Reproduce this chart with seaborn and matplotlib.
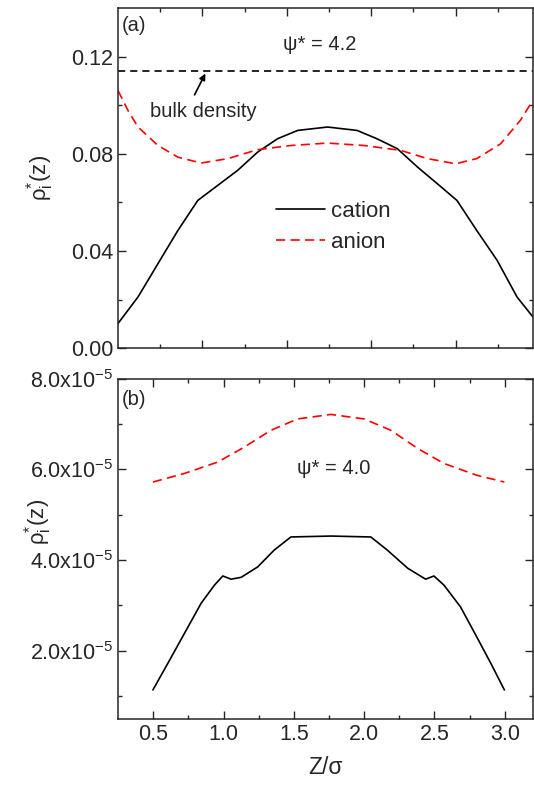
import numpy as np
import pandas as pd
import matplotlib
matplotlib.use("Agg")
import matplotlib.pyplot as plt
import seaborn as sns
from matplotlib.ticker import FixedLocator, NullFormatter

# ---- data (panel a, psi* = 4.2) ----
za = [0.25, 0.392, 0.534, 0.676, 0.817, 0.959, 1.101, 1.243, 1.385, 1.527, 1.739,
      1.95, 2.09, 2.236, 2.38, 2.52, 2.66, 2.80, 2.945, 3.087, 3.20]
cation_a = [0.0102, 0.0211, 0.0348, 0.0485, 0.0608, 0.0670, 0.0732, 0.0807, 0.0862, 0.0896, 0.0910,
            0.0896, 0.0862, 0.0821, 0.0745, 0.0677, 0.0608, 0.0485, 0.0362, 0.0211, 0.0129]
za_an = [0.25, 0.321, 0.392, 0.534, 0.676, 0.841, 1.03, 1.243, 1.479, 1.739, 2.00, 2.26,
         2.45, 2.65, 2.80, 2.97, 3.11, 3.20]
anion_a = [0.106, 0.0978, 0.0910, 0.0834, 0.0786, 0.0762, 0.0780, 0.0817, 0.0834, 0.0844, 0.0834,
           0.0814, 0.0780, 0.0759, 0.0780, 0.0841, 0.0937, 0.102]
bulk_density = 0.114

# ---- data (panel b, psi* = 4.0) ----
zb = [0.498, 0.605, 0.723, 0.841, 0.936, 0.995, 1.054, 1.125, 1.243, 1.36, 1.479, 1.763,
      2.047, 2.165, 2.31, 2.437, 2.496, 2.567, 2.685, 2.80, 2.90, 2.997]
cation_b = [1.14e-5, 1.73e-5, 2.39e-5, 3.05e-5, 3.45e-5, 3.65e-5, 3.58e-5, 3.62e-5, 3.85e-5, 4.22e-5,
            4.51e-5, 4.53e-5, 4.51e-5, 4.22e-5, 3.82e-5, 3.58e-5, 3.65e-5, 3.45e-5, 2.97e-5,
            2.31e-5, 1.73e-5, 1.14e-5]
zb_an = [0.498, 0.723, 0.959, 1.148, 1.337, 1.527, 1.763, 2.00, 2.19, 2.38, 2.567, 2.80, 2.997]
anion_b = [5.72e-5, 5.91e-5, 6.16e-5, 6.49e-5, 6.86e-5, 7.11e-5, 7.21e-5, 7.11e-5, 6.86e-5,
           6.46e-5, 6.13e-5, 5.87e-5, 5.72e-5]

ytick_a = [0.00, 0.04, 0.08, 0.12]
ytick_a_labels = ["0.00", "0.04", "0.08", "0.12"]
ytick_b = [2e-5, 4e-5, 6e-5, 8e-5]
ytick_b_labels = [r"2.0x10$^{-5}$", r"4.0x10$^{-5}$", r"6.0x10$^{-5}$", r"8.0x10$^{-5}$"]
xtick_b = [0.5, 1.0, 1.5, 2.0, 2.5, 3.0]
xtick_b_labels = ["0.5", "1.0", "1.5", "2.0", "2.5", "3.0"]

sns.set_style("ticks")
plt.rcParams["font.family"] = ["Liberation Sans", "DejaVu Sans"]
plt.rcParams["mathtext.fontset"] = "custom"
plt.rcParams["mathtext.rm"] = "Liberation Sans"
plt.rcParams["mathtext.it"] = "Liberation Sans:italic"
plt.rcParams["mathtext.bf"] = "Liberation Sans:bold"

FS_TICK = 15.5
FS_TXT = 14.5
fig = plt.figure(figsize=(5.34, 7.88), dpi=100)
ax1 = fig.add_axes([0.221, 0.558, 0.777, 0.432])
ax2 = fig.add_axes([0.221, 0.0876, 0.777, 0.432])

red = "#ff0000"
LW = 1.2
dfa_c = pd.DataFrame({"z": za, "rho": cation_a})
dfa_a = pd.DataFrame({"z": za_an, "rho": anion_a})
sns.lineplot(data=dfa_c, x="z", y="rho", ax=ax1, color="black", lw=LW, label="cation", sort=False)
sns.lineplot(data=dfa_a, x="z", y="rho", ax=ax1, color=red, lw=LW, label="anion", sort=False,
             linestyle=(0, (5.5, 3.2)))
ax1.axhline(bulk_density, color="black", lw=LW, linestyle=(0, (4.3, 3)))

dfb_c = pd.DataFrame({"z": zb, "rho": cation_b})
dfb_a = pd.DataFrame({"z": zb_an, "rho": anion_b})
sns.lineplot(data=dfb_c, x="z", y="rho", ax=ax2, color="black", lw=LW, sort=False)
sns.lineplot(data=dfb_a, x="z", y="rho", ax=ax2, color=red, lw=LW, sort=False,
             linestyle=(0, (5.5, 3.2)))

for ax in (ax1, ax2):
    ax.set_xlim(0.25, 3.2)
    for s in ax.spines.values():
        s.set_visible(True)
        s.set_linewidth(1.1)
    ax.tick_params(which="both", direction="in", top=True, right=True, width=1.0,
                   labelsize=FS_TICK)
    ax.tick_params(which="major", length=5.5)
    ax.tick_params(which="minor", length=3)
    ax.set_xlabel("")

# panel a
ax1.set_ylim(0, 0.14)
ax1.set_yticks(ytick_a)
ax1.set_yticklabels(ytick_a_labels)
ax1.yaxis.set_minor_locator(FixedLocator([0.02, 0.06, 0.10]))
ax1.xaxis.set_major_locator(FixedLocator([0.85, 1.45, 2.05, 2.65]))
ax1.xaxis.set_minor_locator(FixedLocator([0.55, 1.15, 1.75, 2.35, 2.95]))
ax1.xaxis.set_major_formatter(NullFormatter())
ax1.set_ylabel(r"ρ$_{\rm i}^{*}$(z)", fontsize=16)
ax1.yaxis.set_label_coords(-0.15, 0.5)
ax1.text(0.01, 0.976, "(a)", transform=ax1.transAxes, fontsize=FS_TXT, va="top", ha="left")
ax1.text(0.398, 0.891, "ψ* = 4.2", transform=ax1.transAxes, fontsize=FS_TXT, va="center", ha="left")
ax1.text(0.077, 0.697, "bulk density", transform=ax1.transAxes, fontsize=FS_TXT, va="center",
         ha="left")
ax1.annotate("", xy=(0.88, bulk_density), xytext=(0.785, 0.1032),
             arrowprops=dict(arrowstyle="-|>", color="black", lw=1.2, mutation_scale=9))
ax1.legend(loc="center left", bbox_to_anchor=(0.332, 0.356), frameon=False, fontsize=16,
           handlelength=2.2, handletextpad=0.3, labelspacing=0.45)

# panel b
ax2.set_ylim(0.5e-5, 8e-5)
ax2.set_yticks(ytick_b)
ax2.set_yticklabels(ytick_b_labels)
ax2.yaxis.set_minor_locator(FixedLocator([1e-5, 3e-5, 5e-5, 7e-5]))
ax2.set_xticks(xtick_b)
ax2.set_xticklabels(xtick_b_labels)
ax2.xaxis.set_minor_locator(FixedLocator([0.75, 1.25, 1.75, 2.25, 2.75]))
ax2.set_ylabel(r"ρ$_{\rm i}^{*}$(z)", fontsize=16)
ax2.yaxis.set_label_coords(-0.155, 0.58)
ax2.set_xlabel("Z/σ", fontsize=16.5, labelpad=8)
ax2.text(0.01, 0.965, "(b)", transform=ax2.transAxes, fontsize=FS_TXT, va="top", ha="left")
ax2.text(0.431, 0.736, "ψ* = 4.0", transform=ax2.transAxes, fontsize=FS_TXT, va="center", ha="left")

fig.savefig("out.png", dpi=100)
